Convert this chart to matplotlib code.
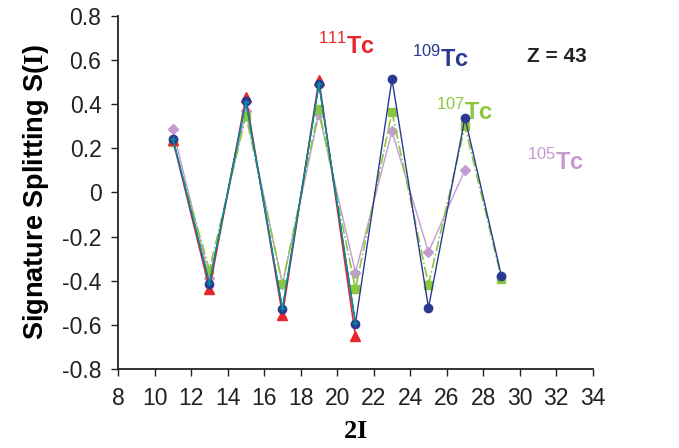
import matplotlib
matplotlib.use("Agg")
import matplotlib.pyplot as plt

plt.rcParams['font.family'] = ['Liberation Sans', 'DejaVu Sans']
plt.rcParams['mathtext.fontset'] = 'custom'
plt.rcParams['mathtext.bf'] = 'Liberation Serif:bold'
plt.rcParams['mathtext.sf'] = 'Liberation Sans'
plt.rcParams['mathtext.rm'] = 'Liberation Sans'

# spin values 2I
spin_111 = [11, 13, 15, 17, 19, 21]
spin_109 = [11, 13, 15, 17, 19, 21, 23, 25, 27, 29]
spin_107 = [11, 13, 15, 17, 19, 21, 23, 25, 27, 29]
spin_105 = [11, 13, 15, 17, 19, 21, 23, 25, 27]
spin_teal = [11, 13, 15, 17, 19, 21]

# signature splitting S(I)
s_111 = [0.238, -0.436, 0.43, -0.553, 0.51, -0.652]
s_109 = [0.243, -0.413, 0.413, -0.528, 0.49, -0.594, 0.513, -0.522, 0.338, -0.38]
s_107 = [0.228, -0.35, 0.348, -0.415, 0.379, -0.437, 0.365, -0.418, 0.299, -0.39]
s_105 = [0.285, -0.386, 0.368, -0.416, 0.356, -0.363, 0.277, -0.27, 0.103]
s_teal = [0.243, -0.41, 0.41, -0.525, 0.49, -0.59]

xticks = list(range(8, 35, 2))
yticks = [-0.8, -0.6, -0.4, -0.2, 0, 0.2, 0.4, 0.6, 0.8]
ytick_labels = ['-0.8', '-0.6', '-0.4', '-0.2', '0', '0.2', '0.4', '0.6', '0.8']

red = '#e8262b'
blue = '#2b3990'
green = '#8dc63f'
lilac = '#c49bd0'
teal = '#00929c'

fig = plt.figure(figsize=(6.79, 4.48), dpi=100)
ax = fig.add_axes([0.174, 0.176, 0.699, 0.789])

ax.plot(spin_105, s_105, color=lilac, lw=1, marker='D', ms=5, mec=lilac, zorder=2)
ax.plot(spin_107, s_107, color=green, lw=1.2, ls='-.', marker='s', ms=6, mec=green, zorder=3)
ax.plot(spin_111, s_111, color=red, lw=1.2, marker='^', ms=7, mec=red, zorder=3)
ax.plot(spin_109, s_109, color=blue, lw=1, marker='o', ms=6, mec=blue, zorder=4)
ax.plot(spin_teal, s_teal, color=teal, lw=1, marker='+', ms=5, mew=1, zorder=5)

ax.set_xlim(8, 34)
ax.set_ylim(-0.8, 0.8)
ax.set_xticks(xticks)
ax.set_yticks(yticks)
ax.set_yticklabels(ytick_labels)
ax.tick_params(labelsize=16.5, length=5, width=1, colors='#222222', labelcolor='#222222')
ax.tick_params(axis='x', pad=8)
ax.tick_params(axis='y', pad=7)
for side in ['top', 'right']:
    ax.spines[side].set_visible(False)
for side in ['left', 'bottom']:
    ax.spines[side].set_linewidth(1.3)
    ax.spines[side].set_color('#222222')

ax.set_xlabel(r'$\mathbf{2I}$', fontsize=19, labelpad=6)
ax.set_ylabel(r'Signature Splitting S($\mathbf{I}$)', fontsize=19.5, fontweight='bold', labelpad=8)

ax.text(18.97, 0.665, r'$^{\mathsf{111}}$Tc', color=red, fontsize=17, fontweight='bold', va='center')
ax.text(24.1, 0.606, r'$^{\mathsf{109}}$Tc', color=blue, fontsize=17, fontweight='bold', va='center')
ax.text(25.4, 0.362, r'$^{\mathsf{107}}$Tc', color=green, fontsize=17, fontweight='bold', va='center')
ax.text(30.4, 0.136, r'$^{\mathsf{105}}$Tc', color=lilac, fontsize=17, fontweight='bold', va='center')
ax.text(30.4, 0.615, 'Z = 43', color='#222222', fontsize=15, fontweight='bold', va='center')

plt.savefig('out.png', dpi=100)
